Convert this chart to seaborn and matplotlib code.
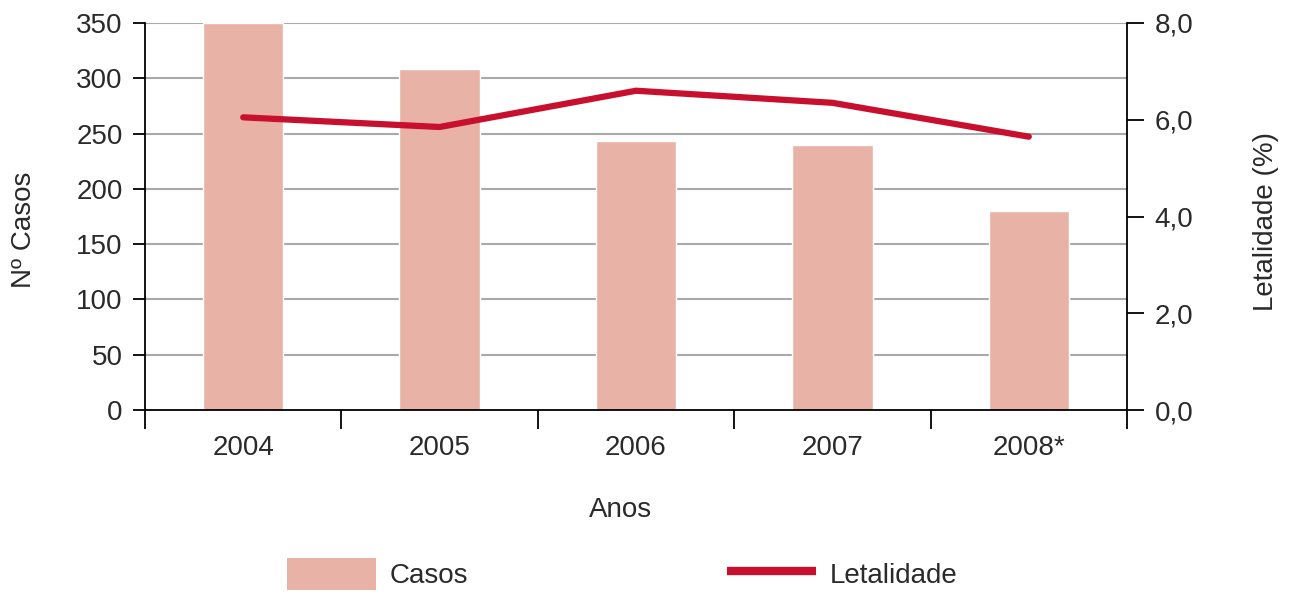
import pandas as pd
import seaborn as sns
import matplotlib.pyplot as plt
from matplotlib.patches import Patch
from matplotlib.lines import Line2D

plt.switch_backend('Agg')

# Chart data
anos = ["2004", "2005", "2006", "2007", "2008*"]
casos = [350, 308, 243, 240, 180]
letalidade = [6.05, 5.85, 6.6, 6.35, 5.65]

bar_color = "#E8B2A6"
line_color = "#C8102E"
text_color = "#2a2a2a"
fs = 20

sns.set_style("white")
plt.rcParams['font.family'] = ['Liberation Sans', 'DejaVu Sans']

df = pd.DataFrame({"Anos": anos, "Casos": casos, "pos": range(len(anos)), "Letalidade": letalidade})

fig = plt.figure(figsize=(12.91, 5.96), dpi=100)
ax = fig.add_axes([145 / 1291, 1 - 410 / 596, (1127 - 145) / 1291, (410 - 23) / 596])

# gridlines behind bars
for v in range(50, 351, 50):
    ax.axhline(v, color="#a9a9a9", lw=1.5, zorder=0)

sns.barplot(data=df, x="Anos", y="Casos", color=bar_color, width=0.41,
            saturation=1, ax=ax, zorder=2)
ax.set_xlim(-0.5, len(anos) - 0.5)
ax.set_ylim(0, 350)
ax.set_yticks(range(0, 351, 50))

ax2 = ax.twinx()
sns.lineplot(data=df, x="pos", y="Letalidade", color=line_color, lw=4.5,
             ax=ax2, zorder=3, solid_capstyle="round")
ax2.set_ylim(0, 8)
ax2.set_yticks([0, 2, 4, 6, 8])
ax2.set_yticklabels([f"{v:.1f}".replace(".", ",") for v in [0, 2, 4, 6, 8]])
ax2.set_xlim(-0.5, len(anos) - 0.5)

# x ticks at category boundaries, labels at centers
ax.set_xticks([i - 0.5 for i in range(len(anos) + 1)])
ax.set_xticklabels([])
ax.set_xticks(range(len(anos)), minor=True)
ax.set_xticklabels(anos, minor=True)
ax.tick_params(axis="x", which="major", direction="out", length=14, width=1.3, color="black", bottom=True)
ax.tick_params(axis="x", which="minor", length=0, pad=18, labelsize=fs, labelcolor=text_color)
ax.tick_params(axis="y", direction="out", length=9, width=1.3, color="black", left=True, pad=7,
               labelsize=fs, labelcolor=text_color)
ax2.tick_params(axis="y", direction="out", length=12, width=1.3, color="black", right=True, pad=8,
                labelsize=fs, labelcolor=text_color)

for a in (ax, ax2):
    a.spines["top"].set_visible(False)
    for s in ("left", "bottom", "right"):
        a.spines[s].set_color("black")
        a.spines[s].set_linewidth(1.3)
ax.spines["right"].set_visible(False)
ax2.spines["left"].set_visible(False)
ax2.spines["bottom"].set_visible(False)

ax.set_xlabel("Anos", fontsize=fs, color=text_color)
ax.xaxis.set_label_coords(0.484, -0.225)
ax.set_ylabel("Nº Casos", fontsize=fs, color=text_color)
ax.yaxis.set_label_coords(-0.110, 0.465)
ax2.set_ylabel("Letalidade (%)", fontsize=fs, color=text_color)
ax2.yaxis.set_label_coords(1.128, 0.486)

handles = [Patch(facecolor=bar_color, edgecolor="none", label="Casos"),
           Line2D([], [], color=line_color, lw=6, solid_capstyle="butt", label="Letalidade")]
leg = fig.legend(handles=handles, loc="lower left", bbox_to_anchor=(262 / 1291, -0.032),
                 ncol=2, frameon=False, fontsize=fs, handlelength=3.2, handleheight=1.4,
                 handletextpad=0.5, columnspacing=9.3)
for t in leg.get_texts():
    t.set_color(text_color)

fig.savefig("out.png", dpi=100)
plt.close(fig)
